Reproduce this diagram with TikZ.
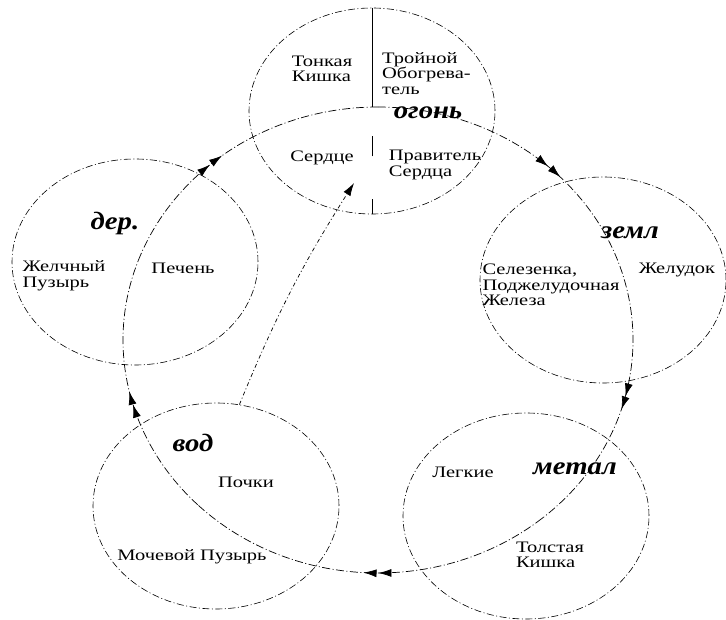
\documentclass[tikz,border=0pt]{standalone}
\usepackage{fontspec}
\setmainfont{Liberation Serif}
\newfontfamily\organfont[FakeStretch=1.28]{Liberation Serif}
\newfontfamily\handfont[FakeStretch=1.15]{Liberation Serif}
\usetikzlibrary{shapes.geometric,arrows.meta,decorations.markings,calc}

\tikzset{
  organ/.style={ellipse,draw,inner sep=0pt,minimum width=246pt,minimum height=206pt,
    line width=0.6pt,dash pattern=on 7pt off 2.5pt on 1pt off 2.5pt},
  txt/.style={align=left,inner sep=0pt,font=\organfont\fontsize{16}{15.5}\selectfont},
  hand/.style={inner sep=0pt,font=\handfont\fontsize{25}{25}\selectfont\itshape\bfseries},
  cyc/.style={line width=0.7pt,dash pattern=on 8pt off 2.5pt on 1pt off 2.5pt},
  flow/.style 2 args={postaction=decorate,decoration={markings,
    mark=at position #1 with {\arrow{Latex[length=13pt,width=8pt]}},
    mark=at position #2 with {\arrow{Latex[length=13pt,width=8pt]}}}}
}

\begin{document}
\begin{tikzpicture}[x=1pt,y=1pt]
\useasboundingbox (0,0) rectangle (726,619);

% circles
\node[organ] (fire) at (372,508) {};
\node[organ] (wood) at (135,357) {};
\node[organ] (earth) at (603,339) {};
\node[organ] (metal) at (526,103) {};
\node[organ] (water) at (216,113) {};

% points of the cycle
\coordinate (ctr) at (378,279);
\coordinate (p-fire) at ($(ctr)+(90:255pt and 233pt)$);
\coordinate (p-earth) at ($(ctr)+(15:255pt and 233pt)$);
\coordinate (p-metal) at ($(ctr)+(-50:255pt and 233pt)$);
\coordinate (p-water) at ($(ctr)+(-135:255pt and 233pt)$);
\coordinate (p-wood) at ($(ctr)+(160:255pt and 233pt)$);
\coordinate (heart-tip) at (354,436);

% organs
\node[txt] (small) at (322,550) {Тонкая\\Кишка};
\node[txt,anchor=north west] (triple) at (382,567) {Тройной\\Обогрева-\\тель};
\node[txt] (heart) at (322,461) {Сердце};
\node[txt] (pericard) at (435,454) {Правитель\\Сердца};
\node[txt] (gall) at (64,343) {Желчный\\Пузырь};
\node[txt] (liver) at (183,351) {Печень};
\node[txt] (spleen) at (551,334) {Селезенка,\\Поджелудочная\\Железа};
\node[txt] (stomach) at (677,349) {Желудок};
\node[txt] (lungs) at (463,147) {Легкие};
\node[txt] (colon) at (550,64) {Толстая\\Кишка};
\node[txt] (kidney) at (246,137) {Почки};
\node[txt] (bladder) at (192,62) {Мочевой Пузырь};

% elements
\node[hand] (h-wood) at (115,396) {дер.};
\node[hand] (h-fire) at (428,506) {огонь};
\node[hand] (h-earth) at (630,386) {земл};
\node[hand] (h-metal) at (575,150) {метал};
\node[hand] (h-water) at (193,176) {вод};

% divider
\draw[line width=0.6pt] (fire.north) -- (fire.north |- p-fire);
\draw[line width=0.6pt,dash pattern=on 15pt off 43pt on 20pt] (fire.south) -- ($(fire.south)+(0,78)$);

% arrows
\draw[cyc,flow={0.40}{0.45}] (p-wood) arc[start angle=160,end angle=90,x radius=255pt,y radius=233pt];
\draw[cyc,flow={0.57}{0.62}] (p-fire) arc[start angle=90,end angle=15,x radius=255pt,y radius=233pt];
\draw[cyc,flow={0.44}{0.49}] (p-earth) arc[start angle=15,end angle=-50,x radius=255pt,y radius=233pt];
\draw[cyc,flow={0.47}{0.51}] (p-metal) arc[start angle=-50,end angle=-135,x radius=255pt,y radius=233pt];
\draw[cyc,flow={0.45}{0.50}] (p-water) arc[start angle=-135,end angle=-200,x radius=255pt,y radius=233pt];
\draw[cyc,dash pattern=on 4pt off 2.5pt on 1pt off 2.5pt,-{Latex[length=13pt,width=8pt]}] (water.77) to[bend left=5] (heart-tip);
\end{tikzpicture}
\end{document}
